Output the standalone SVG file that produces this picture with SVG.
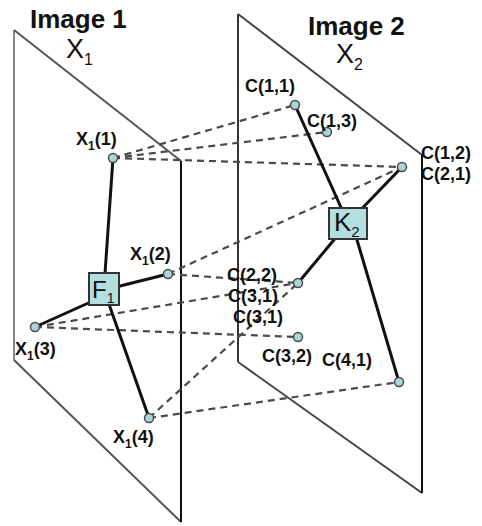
<svg xmlns="http://www.w3.org/2000/svg" width="482" height="526" viewBox="0 0 482 526">
<style>
.title{font-family:"Liberation Sans",Arial,sans-serif;font-weight:bold;font-size:26px;fill:#111}
.sym{font-family:"Liberation Sans",Arial,sans-serif;font-size:27px;fill:#111}
.lbl{font-family:"Liberation Sans",Arial,sans-serif;font-weight:bold;font-size:18px;fill:#111}
.sub{font-size:12px}
.dash{stroke:#4a4a4a;stroke-width:2.2;stroke-dasharray:7 5;fill:none}
.solid{stroke:#111;stroke-width:3;fill:none}
.pt{fill:#a9d6d6;stroke:#4a4a4a;stroke-width:1.5}
.box{fill:#b4dfe0;stroke:#333;stroke-width:2}
.boxt{font-family:"Liberation Sans",Arial,sans-serif;fill:#111}
</style>
<rect width="482" height="526" fill="#fff"/>
<g id="plane1">
<line x1="14" y1="30" x2="14" y2="360" stroke="#888" stroke-width="2"/>
<line x1="14" y1="30" x2="181" y2="161" stroke="#555" stroke-width="2"/>
<line x1="14" y1="360" x2="181" y2="522" stroke="#555" stroke-width="2"/>
<line x1="181" y1="161" x2="181" y2="522" stroke="#111" stroke-width="2"/>
</g>
<g id="plane2">
<line x1="238" y1="14" x2="238" y2="362" stroke="#333" stroke-width="2"/>
<line x1="238" y1="14" x2="422" y2="155" stroke="#444" stroke-width="2"/>
<line x1="238" y1="362" x2="422" y2="493" stroke="#444" stroke-width="2"/>
<line x1="422" y1="155" x2="422" y2="493" stroke="#111" stroke-width="2"/>
</g>
<g id="titles">
<text class="title" x="30" y="28">Image 1</text>
<text class="sym" x="66" y="58">X<tspan style="font-size:16px" dy="7">1</tspan></text>
<text class="title" x="308" y="35">Image 2</text>
<text class="sym" x="336" y="63">X<tspan style="font-size:16px" dy="7">2</tspan></text>
</g>
<g id="connectors">
<line class="dash" x1="113" y1="158" x2="295" y2="105"/>
<line class="dash" x1="113" y1="158" x2="327" y2="132"/>
<line class="dash" x1="113" y1="158" x2="402" y2="167"/>
<line class="dash" x1="168" y1="274" x2="402" y2="167"/>
<line class="dash" x1="168" y1="274" x2="298" y2="283"/>
<line class="dash" x1="35" y1="327" x2="298" y2="283"/>
<line class="dash" x1="35" y1="327" x2="298" y2="337"/>
<line class="dash" x1="149" y1="418" x2="298" y2="283"/>
<line class="dash" x1="149" y1="418" x2="399" y2="382"/>
<line class="solid" x1="113" y1="158" x2="104" y2="288"/>
<line class="solid" x1="168" y1="274" x2="104" y2="290"/>
<line class="solid" x1="35" y1="327" x2="104" y2="296"/>
<line class="solid" x1="149" y1="418" x2="104" y2="290"/>
<line class="solid" x1="295" y1="105" x2="348" y2="223"/>
<line class="solid" x1="402" y1="167" x2="348" y2="223"/>
<line class="solid" x1="298" y1="283" x2="348" y2="223"/>
<line class="solid" x1="399" y1="382" x2="352" y2="223"/>
</g>
<g id="F1">
<rect class="box" x="89" y="273" width="30" height="32"/>
<text class="boxt" x="92" y="298" font-size="24">F<tspan font-size="14" dy="5">1</tspan></text>
</g>
<g id="K2">
<rect class="box" x="329" y="208" width="38" height="31"/>
<text class="boxt" x="334" y="231" font-size="26">K<tspan font-size="15" dy="6">2</tspan></text>
</g>
<g id="X1_1"><circle class="pt" cx="113" cy="158" r="4.5"/><text class="lbl" x="76" y="145">X<tspan class="sub" dy="5">1</tspan><tspan dy="-5">(1)</tspan></text></g>
<g id="X1_2"><circle class="pt" cx="168" cy="274" r="4.5"/><text class="lbl" x="130" y="260">X<tspan class="sub" dy="5">1</tspan><tspan dy="-5">(2)</tspan></text></g>
<g id="X1_3"><circle class="pt" cx="35" cy="327" r="4.5"/><text class="lbl" x="15" y="355">X<tspan class="sub" dy="5">1</tspan><tspan dy="-5">(3)</tspan></text></g>
<g id="X1_4"><circle class="pt" cx="149" cy="418" r="4.5"/><text class="lbl" x="113" y="443">X<tspan class="sub" dy="5">1</tspan><tspan dy="-5">(4)</tspan></text></g>
<g id="C11"><circle class="pt" cx="295" cy="105" r="4.5"/><text class="lbl" x="245" y="92">C(1,1)</text></g>
<g id="C13"><circle class="pt" cx="327" cy="132" r="4.5"/><text class="lbl" x="307" y="127">C(1,3)</text></g>
<g id="C12"><circle class="pt" cx="402" cy="167" r="4.5"/><text class="lbl" x="421" y="159">C(1,2)</text><text class="lbl" x="421" y="180">C(2,1)</text></g>
<g id="C22"><circle class="pt" cx="298" cy="283" r="4.5"/><text class="lbl" x="227" y="281">C(2,2)</text><text class="lbl" x="228" y="302">C(3,1)</text><text class="lbl" x="233" y="323">C(3,1)</text></g>
<g id="C32"><circle class="pt" cx="298" cy="337" r="4.5"/><text class="lbl" x="262" y="362">C(3,2)</text></g>
<g id="C41"><circle class="pt" cx="399" cy="382" r="4.5"/><text class="lbl" x="322" y="366">C(4,1)</text></g>
</svg>
